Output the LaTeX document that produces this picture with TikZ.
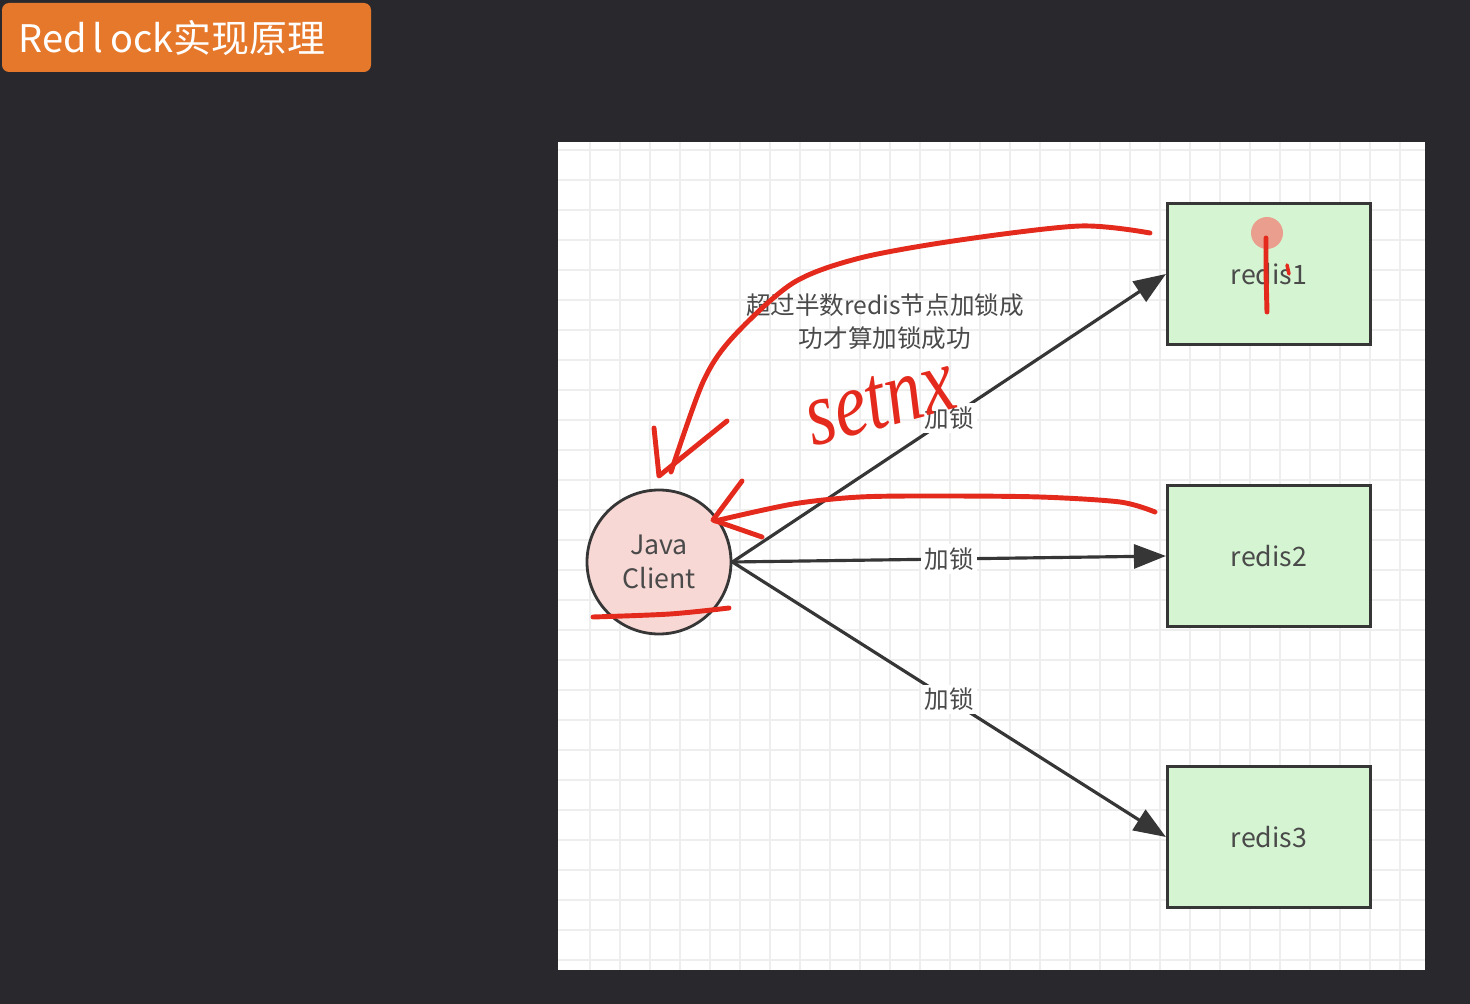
\documentclass[tikz,border=0pt]{standalone}
\usepackage{xcolor}
\usepackage{fontspec}
\setmainfont{Noto Sans CJK SC}
\newfontfamily\handfont{Liberation Serif}
\usepackage{tikz}
\usetikzlibrary{arrows.meta}
\definecolor{SlideDark}{HTML}{29292D}
\definecolor{TitleOrange}{HTML}{E6782C}
\definecolor{GridGray}{HTML}{EEEEEE}
\definecolor{LineGray}{HTML}{363636}
\definecolor{RedisGreen}{HTML}{D5F5D2}
\definecolor{ClientPink}{HTML}{F8D8D5}
\definecolor{LabelGray}{HTML}{4A4A4A}
\definecolor{PenRed}{HTML}{E42A1C}
\definecolor{PenPink}{HTML}{F08A7E}

\begin{document}
\begin{tikzpicture}[
    x=0.1mm, y=-0.1mm,
    redisbox/.style={draw=LineGray, line width=0.9pt, fill=RedisGreen, minimum width=20.3mm, minimum height=14.1mm, text=LabelGray, font=\fontsize{7.6}{9}\selectfont},
    client/.style={circle, draw=LineGray, line width=0.8pt, fill=ClientPink, minimum size=14.4mm, inner sep=0pt, align=center, text=LabelGray, font=\fontsize{7.6}{9.6}\selectfont},
    lockline/.style={draw=LineGray, line width=0.9pt, -{Triangle[length=3.2mm, width=2.4mm]}},
    tag/.style={fill=white, inner sep=1pt, text=LabelGray, font=\fontsize{7}{8}\selectfont},
    pen/.style={draw=PenRed, line width=1.4pt, line cap=round, line join=round}
  ]
    % slide and canvas
    \fill[SlideDark] (0,0) rectangle (1470,1004);
    \useasboundingbox (0,0) rectangle (1470,1004);
    \fill[TitleOrange, rounded corners=2pt] (2,3) rectangle (371,72);
    \node[anchor=west, text=white, font=\fontsize{10.8}{12}\selectfont] (title) at (6,38) {Red\,l\,ock实现原理};
    \fill[white] (558,142) rectangle (1425,970);
    \foreach \gx in {590,620,...,1410}
      \draw[GridGray, line width=0.3pt] (\gx,142) -- (\gx,970);
    \foreach \gy in {150,180,...,960}
      \draw[GridGray, line width=0.3pt] (558,\gy) -- (1425,\gy);

    % nodes
    \node[client] (java) at (659,562) {Java\\Client};
    \node[redisbox] (redis1) at (1269,274) {redis1};
    \node[redisbox] (redis2) at (1269,556) {redis2};
    \node[redisbox] (redis3) at (1269,837) {redis3};
    \node[align=center, text=LabelGray, font=\fontsize{7}{9.4}\selectfont] (quorum) at (885,322) {超过半数redis节点加锁成\\功才算加锁成功};

    % lock requests
    \draw[lockline] (java.east) -- node[tag] {加锁} (redis1.west);
    \draw[lockline] (java.east) -- node[tag] {加锁} (redis2.west);
    \draw[lockline] (java.east) -- node[tag] {加锁} (redis3.west);

    % hand annotations
    \node[text=PenRed, rotate=15, yscale=1.25, font=\handfont\itshape\fontsize{21}{21}\selectfont] (setnx) at (880,402) {setnx};
    \draw[pen] plot[smooth] coordinates {(1150,233) (1080,226) (960,240) (860,258) (793,283) (733,337) (703,382) (671,472)};
    \draw[pen] (654,428) -- (659,476) -- (727,421);
    \draw[pen] plot[smooth] coordinates {(1155,512) (1120,502) (1040,497) (940,496) (860,497) (793,504) (715,521)};
    \draw[pen] (742,481) -- (713,520) -- (762,537);
    \draw[pen] plot[smooth] coordinates {(593,617) (670,614) (729,608)};
    \fill[PenPink, opacity=0.8] (1267,233) circle (1.6mm);
    \draw[pen] (1266,238) -- (1266,272) -- (1267,312);
    \draw[pen, line width=1pt] (1287,265) -- (1289,274);
\end{tikzpicture}
\end{document}
